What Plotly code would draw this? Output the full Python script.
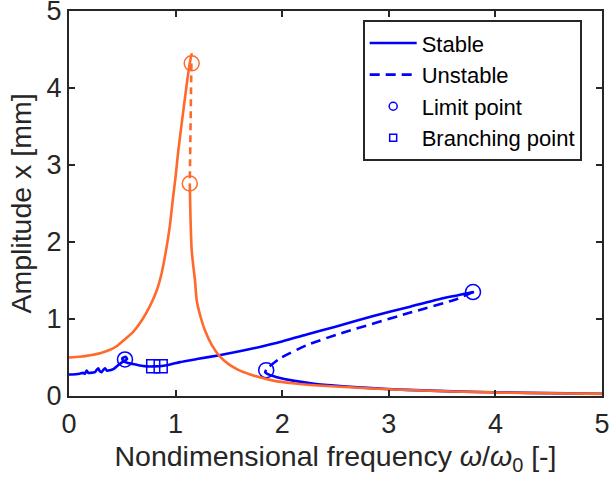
import plotly.graph_objects as go

# orange curve
orange_up_x = [0, 0.1, 0.2, 0.3, 0.385, 0.45, 0.51, 0.6, 0.682, 0.76, 0.823, 0.87, 0.91, 0.945,
               0.972, 1.0, 1.025, 1.06, 1.1, 1.13, 1.152]
orange_up_y = [0.5, 0.51, 0.53, 0.56, 0.6, 0.65, 0.72, 0.83, 0.98, 1.17, 1.37, 1.6, 1.89, 2.2,
               2.53, 2.85, 3.18, 3.57, 4.0, 4.3, 4.45]
orange_unst_x = [1.148, 1.133]
orange_unst_y = [4.32, 2.76]
orange_down_x = [1.133, 1.14, 1.151, 1.165, 1.182, 1.198, 1.24, 1.276, 1.34, 1.417, 1.5, 1.588,
                 1.7, 1.823, 1.917, 2.1, 2.3, 2.54, 2.8, 3.17, 3.6, 4.1, 4.5, 5.0]
orange_down_y = [2.76, 2.3, 1.89, 1.7, 1.5, 1.24, 1.0, 0.85, 0.66, 0.51, 0.41, 0.34,
                 0.28, 0.23, 0.2, 0.165, 0.14, 0.12, 0.1, 0.078, 0.058, 0.043, 0.035, 0.027]
orange_lp_x = [1.151, 1.133]
orange_lp_y = [4.32, 2.76]

# blue curve
blue_up_x = [0, 0.03, 0.1, 0.134, 0.15, 0.166, 0.18, 0.197, 0.244, 0.26, 0.275, 0.29, 0.306, 0.322,
             0.338, 0.355, 0.369, 0.416, 0.46, 0.5, 0.545, 0.53, 0.5, 0.51, 0.55, 0.6, 0.65, 0.73,
             0.8, 0.87, 0.95, 1.04, 1.2, 1.41, 1.6, 1.8, 1.98, 2.23, 2.5, 2.855, 3.2, 3.48, 3.8]
blue_up_y = [0.28, 0.28, 0.29, 0.3, 0.29, 0.33, 0.3, 0.3, 0.31, 0.34, 0.36, 0.32, 0.31, 0.34,
             0.36, 0.33, 0.33, 0.35, 0.40, 0.44, 0.48, 0.51, 0.49, 0.45, 0.43, 0.415, 0.40, 0.385,
             0.385, 0.39, 0.41, 0.44, 0.48, 0.53, 0.58, 0.64, 0.70, 0.80, 0.9, 1.04, 1.16, 1.26, 1.35]
blue_unst_x = [3.79, 3.64, 3.17, 2.54, 2.23, 1.98, 1.86]
blue_unst_y = [1.35, 1.26, 1.07, 0.81, 0.66, 0.49, 0.36]
blue_down_x = [1.85, 1.84, 1.87, 1.95, 2.1, 2.3, 2.54, 2.8, 3.17, 3.6, 4.1, 4.5, 5.0]
blue_down_y = [0.34, 0.31, 0.28, 0.245, 0.2, 0.16, 0.13, 0.105, 0.08, 0.06, 0.045, 0.037, 0.03]
blue_lp_x = [0.525, 1.85, 3.79]
blue_lp_y = [0.475, 0.336, 1.35]
blue_bp_x = [0.79, 0.86]
blue_bp_y = [0.385, 0.385]

BLUE = '#0000ff'
ORANGE = '#ff6a2b'
AX = '#262626'
FONT = 'Liberation Sans, Arial, sans-serif'
DASH = '10px,6px'

fig = go.Figure()

def add_branch(x, y, color, dash='solid'):
    fig.add_trace(go.Scatter(x=x, y=y, mode='lines', showlegend=False, hoverinfo='skip',
                             line=dict(color=color, width=2.6, dash=dash,
                                       shape='spline', smoothing=0.5)))

def add_points(x, y, color, symbol, size):
    fig.add_trace(go.Scatter(x=x, y=y, mode='markers', showlegend=False, hoverinfo='skip',
                             marker=dict(symbol=symbol, size=size, color=color,
                                         line=dict(color=color, width=1.5))))

add_branch(blue_up_x, blue_up_y, BLUE)
add_branch(blue_unst_x, blue_unst_y, BLUE, DASH)
add_branch(blue_down_x, blue_down_y, BLUE)
add_points(blue_lp_x, blue_lp_y, BLUE, 'circle-open', 15)
add_points(blue_bp_x, blue_bp_y, BLUE, 'square-open', 13)

add_branch(orange_up_x, orange_up_y, ORANGE)
add_branch(orange_unst_x, orange_unst_y, ORANGE, '7px,5px')
add_branch(orange_down_x, orange_down_y, ORANGE)
add_points(orange_lp_x, orange_lp_y, ORANGE, 'circle-open', 15)

# legend entries
fig.add_trace(go.Scatter(x=[None], y=[None], mode='lines', name='Stable',
                         line=dict(color=BLUE, width=2.6)))
fig.add_trace(go.Scatter(x=[None], y=[None], mode='lines', name='Unstable',
                         line=dict(color=BLUE, width=2.6, dash=DASH)))
fig.add_trace(go.Scatter(x=[None], y=[None], mode='markers', name='Limit point',
                         marker=dict(symbol='circle-open', size=8, color=BLUE, line=dict(width=1.5))))
fig.add_trace(go.Scatter(x=[None], y=[None], mode='markers', name='Branching point',
                         marker=dict(symbol='square-open', size=7, color=BLUE, line=dict(width=1.5))))

axis_style = dict(range=[0, 5], dtick=1, showgrid=False, zeroline=False, showline=True,
                  linecolor=AX, linewidth=2, mirror='ticks', ticks='inside', ticklen=6,
                  tickwidth=2, tickcolor=AX, ticklabeloverflow='allow', automargin=False,
                  tickfont=dict(size=27, color=AX, family=FONT))

fig.update_xaxes(**axis_style, ticklabelstandoff=3,
                 title=dict(text='Nondimensional frequency <i>ω</i>/<i>ω</i><sub>0</sub> [-]',
                            font=dict(size=28.5, color=AX, family=FONT), standoff=8))
fig.update_yaxes(**axis_style, ticklabelstandoff=0,
                 title=dict(text='Amplitude x [mm]', font=dict(size=28.5, color=AX, family=FONT),
                            standoff=7))

fig.update_layout(
    template='none',
    width=609, height=486,
    margin=dict(l=69, r=7, t=11, b=90),
    paper_bgcolor='white', plot_bgcolor='white',
    font=dict(family=FONT, color='black'),
    legend=dict(x=0.551, y=0.976, xanchor='left', yanchor='top', bgcolor='white',
                bordercolor=AX, borderwidth=2, font=dict(size=22, color='black', family=FONT),
                itemwidth=47, tracegroupgap=0),
)

# drop the page's default body margin so the figure sits at the window corner
fig.write_html("out.html", config=dict(displayModeBar=False),
               post_script="document.body.style.margin='0';")
